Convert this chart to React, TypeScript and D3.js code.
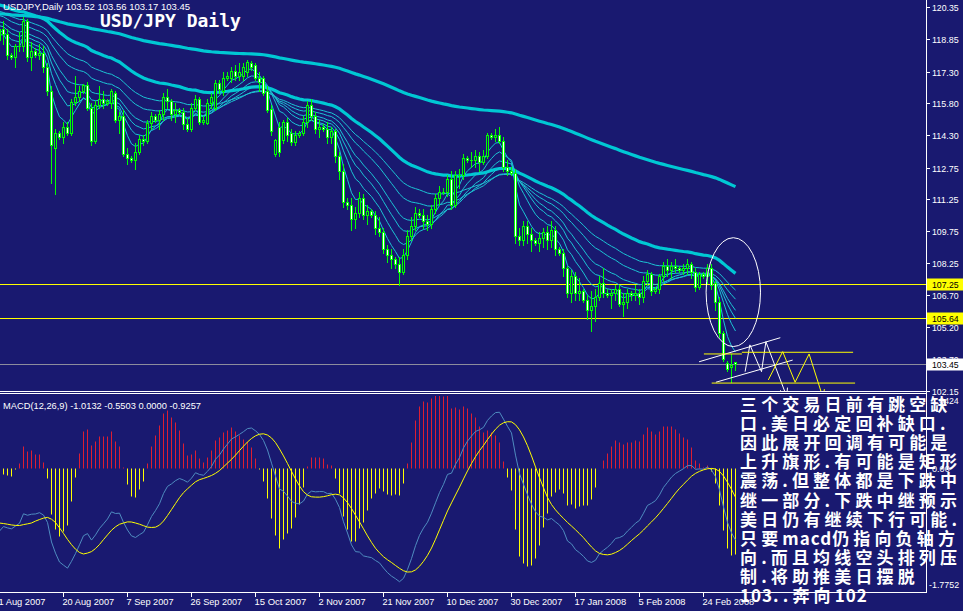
import React from "react";
import * as d3 from "d3";

const BG = "#191970";

// Daily bars, 1 Aug 2007 .. 4 Mar 2008 (broker shows short Sunday bars): [open, high, low, close]
const ohlc: [number, number, number, number][] = [
  [118.8, 119.6, 118.3, 119.3], [119.3, 119.7, 118.6, 119.1], [119.1, 119.3, 117.9, 118.1],
  [118.1, 118.2, 117.9, 118.0], [118.0, 118.6, 117.5, 118.5], [118.5, 119.2, 118.3, 118.5], [118.5, 119.9, 118.3, 119.7], [119.7, 119.8, 117.8, 118.0], [118.0, 118.7, 117.4, 118.3],
  [118.3, 118.4, 118.0, 118.1], [118.1, 118.6, 117.9, 118.2], [118.2, 118.5, 117.3, 117.5], [117.5, 117.7, 116.2, 116.4], [116.4, 116.6, 112.0, 113.8], [113.7, 114.6, 111.5, 114.4],
  [114.4, 114.5, 114.1, 114.2], [114.2, 114.9, 113.9, 114.7], [114.7, 114.9, 114.3, 114.4], [114.4, 116.0, 114.3, 115.85], [115.85, 117.1, 115.7, 116.1], [116.1, 116.6, 115.9, 116.4],
  [116.4, 116.7, 116.3, 116.65], [116.65, 116.8, 115.5, 115.6], [115.6, 115.8, 113.8, 114.0], [114.0, 115.9, 113.9, 115.7], [115.7, 116.6, 115.6, 116.0], [116.0, 116.4, 115.6, 115.8],
  [115.8, 116.0, 115.7, 115.9], [115.8, 116.5, 115.6, 116.4], [116.3, 116.4, 114.9, 115.0], [115.0, 115.4, 114.4, 115.2], [115.2, 115.5, 113.3, 113.4], [113.4, 113.7, 112.9, 113.2],
  [113.2, 113.3, 113.0, 113.1], [113.1, 113.9, 112.7, 113.5], [113.5, 114.3, 113.4, 114.1], [114.1, 114.3, 113.8, 114.0], [114.0, 115.0, 113.9, 114.85], [114.85, 115.4, 114.6, 115.2],
  [115.2, 115.3, 114.9, 115.0], [115.0, 115.5, 114.6, 115.3], [115.3, 116.3, 115.0, 116.1], [116.1, 116.5, 115.6, 115.9], [115.9, 116.0, 115.0, 115.3], [115.3, 115.8, 114.9, 115.5],
  [115.5, 115.6, 115.3, 115.4], [115.4, 115.6, 114.6, 114.8], [114.8, 115.1, 114.5, 114.6], [114.6, 115.8, 114.5, 115.6], [115.6, 116.2, 115.5, 116.0], [116.0, 116.1, 114.8, 114.9],
  [114.9, 115.2, 114.8, 115.0], [114.85, 116.0, 114.8, 115.8], [115.8, 116.3, 115.6, 116.1], [115.6, 116.9, 115.5, 116.75], [116.75, 116.9, 116.3, 116.5], [116.4, 117.3, 116.2, 117.0],
  [117.0, 117.3, 116.9, 117.1], [117.0, 117.5, 116.8, 117.35], [117.35, 117.6, 116.9, 117.1], [117.1, 117.7, 116.9, 117.3], [117.1, 117.7, 116.9, 117.5], [117.3, 117.85, 117.1, 117.75],
  [117.7, 117.8, 117.4, 117.5], [117.6, 117.7, 116.9, 117.0], [117.0, 117.3, 116.4, 116.8], [117.0, 117.1, 116.2, 116.3], [116.4, 116.6, 115.4, 115.5], [115.55, 115.7, 114.3, 114.5],
  [113.4, 114.1, 113.3, 114.05], [114.7, 114.9, 113.3, 113.5], [114.05, 115.0, 113.9, 114.9], [114.9, 115.1, 114.0, 114.3], [114.4, 114.6, 113.8, 113.95], [113.95, 114.5, 113.8, 114.3],
  [114.3, 114.5, 114.2, 114.4], [114.4, 115.2, 114.3, 114.9], [114.9, 115.9, 114.7, 115.7], [115.7, 116.0, 115.0, 115.2], [115.2, 115.4, 114.4, 114.6], [114.6, 115.0, 114.2, 114.7],
  [114.7, 114.8, 114.5, 114.6], [114.6, 114.9, 113.9, 114.2], [114.2, 114.7, 113.9, 114.5], [114.5, 114.6, 113.0, 113.3], [113.3, 113.5, 112.2, 112.6], [112.6, 112.9, 110.9, 111.1],
  [111.1, 111.3, 110.8, 111.0], [111.0, 111.3, 109.8, 110.3], [110.3, 110.9, 109.9, 110.6], [110.6, 111.6, 110.4, 111.3], [111.3, 111.5, 110.3, 110.5], [110.5, 111.0, 110.1, 110.7],
  [110.7, 110.8, 110.4, 110.5], [110.5, 110.7, 109.6, 109.9], [109.9, 110.4, 109.5, 109.7], [109.7, 109.9, 108.7, 108.9], [108.9, 109.1, 108.3, 108.6], [108.6, 108.9, 108.0, 108.4],
  [108.4, 108.5, 108.0, 108.2], [108.2, 108.5, 107.2, 107.8], [107.8, 108.9, 107.7, 108.6], [108.6, 109.8, 108.4, 109.5], [109.5, 110.4, 109.3, 110.0], [110.0, 110.9, 109.8, 110.6],
  [110.6, 110.8, 110.4, 110.5], [110.5, 110.8, 109.9, 110.2], [110.2, 110.5, 109.8, 110.1], [110.1, 111.0, 109.9, 110.8], [110.8, 111.5, 110.6, 111.3], [111.3, 111.9, 111.0, 111.6],
  [111.6, 111.8, 111.5, 111.6], [111.6, 112.4, 111.4, 112.2], [112.2, 112.6, 110.8, 111.0], [111.0, 112.6, 110.9, 112.4], [112.4, 112.7, 111.8, 112.4], [112.4, 113.4, 112.2, 113.2],
  [113.2, 113.3, 113.0, 113.1], [113.1, 113.5, 112.8, 113.1], [113.1, 113.6, 112.8, 113.3], [113.3, 113.5, 112.6, 113.0], [113.0, 113.6, 112.9, 113.3], [113.3, 114.4, 113.2, 114.3],
  [114.3, 114.4, 114.1, 114.2], [114.2, 114.6, 114.0, 114.3], [114.3, 114.7, 113.9, 114.0], [114.0, 114.2, 112.6, 112.8], [112.8, 113.1, 112.4, 112.6],
  [112.6, 112.8, 112.4, 112.5], [112.5, 112.7, 109.2, 109.5], [109.5, 109.9, 109.1, 109.3], [109.3, 110.2, 109.1, 110.0], [110.0, 110.2, 109.2, 109.6], [109.6, 109.9, 108.8, 109.3],
  [109.3, 109.4, 109.1, 109.2], [109.2, 109.7, 108.8, 109.4], [109.4, 109.9, 109.0, 109.7], [109.7, 110.0, 108.9, 109.3], [109.3, 110.2, 109.0, 109.8], [109.8, 110.0, 108.6, 108.9],
  [108.9, 109.0, 108.6, 108.7], [108.7, 108.9, 107.6, 108.0], [108.0, 108.1, 106.6, 106.8], [106.8, 107.9, 106.4, 107.6], [107.6, 107.8, 106.5, 106.8], [106.8, 107.5, 106.5, 106.9],
  [106.9, 107.0, 106.4, 106.5], [106.5, 106.7, 105.6, 106.0], [106.0, 106.9, 105.0, 106.2], [106.2, 107.0, 105.5, 106.6], [106.6, 107.6, 106.5, 107.3], [107.3, 108.0, 106.6, 106.8],
  [106.8, 107.0, 106.6, 106.7], [106.7, 107.0, 106.1, 106.8], [106.8, 107.2, 106.5, 107.0], [107.0, 107.2, 106.2, 106.3], [106.3, 106.8, 105.7, 106.4], [106.4, 107.0, 106.1, 106.8],
  [106.8, 106.9, 106.5, 106.7], [106.7, 107.2, 106.5, 106.8], [106.8, 107.0, 106.3, 106.6], [106.6, 107.6, 106.4, 107.4], [107.4, 107.9, 107.2, 107.7], [107.7, 107.8, 106.7, 106.9],
  [106.9, 107.1, 106.8, 107.0], [107.0, 107.7, 106.8, 107.6], [107.6, 108.3, 107.4, 108.1], [108.1, 108.4, 107.6, 107.9], [107.9, 108.3, 107.5, 108.1], [108.1, 108.4, 107.8, 108.0],
  [108.0, 108.1, 107.8, 107.9], [107.9, 108.2, 107.7, 108.0], [108.0, 108.4, 107.7, 108.2], [108.2, 108.3, 107.5, 107.8], [107.8, 108.0, 106.9, 107.1], [107.1, 107.8, 107.0, 107.7],
  [107.7, 107.8, 107.5, 107.6], [107.6, 108.2, 107.3, 108.0], [108.0, 108.2, 107.0, 107.2], [107.3, 107.4, 106.0, 106.4], [106.4, 106.6, 104.7, 104.9], [104.9, 105.0, 103.6, 103.7],
  [103.5, 103.6, 103.1, 103.2], [103.3, 103.9, 102.6, 103.4], [103.52, 103.56, 103.17, 103.45],
];

const timeLabels = ["1 Aug 2007", "20 Aug 2007", "7 Sep 2007", "26 Sep 2007", "15 Oct 2007", "2 Nov 2007", "21 Nov 2007", "10 Dec 2007", "30 Dec 2007", "17 Jan 2008", "5 Feb 2008", "24 Feb 2008"];
const timeLabelBars = [0, 16, 32, 48, 64, 80, 96, 112, 128, 144, 160, 176];
const priceLabels = [120.35, 118.85, 117.3, 115.8, 114.3, 112.75, 111.25, 109.75, 108.25, 106.7, 105.2, 103.7, 102.15];
const levelLines = [107.25, 105.64];
const bidPrice = 103.45;
const headerValues = ["103.52", "103.56", "103.17", "103.45"];

const thinPeriods = [5, 10, 15, 20, 30, 40];
const thinSeeds = [118.9, 119.2, 119.5, 119.7, 120.0, 120.2];
const thickPeriods = [60, 200];
const thickSeeds = [120.5, 120.05];

const macdPeriods = [12, 26, 9];
const macdSeeds = [119.1, 120.1, -0.78]; // fast EMA, slow EMA, signal at left edge
const macdLegend = ["-1.0132", "-0.5503", "0.0000", "-0.9257"];
const macdAxis = [1.0424, 0, -1.7752];

// drawn objects: [bar, price]
const ellipseCenter = [183.45, 106.85];
const ellipseRadii = [6.8, 2.58];
const flagLines = [
  [[174.9, 103.55], [195.2, 104.69]],
  [[179.1, 102.58], [198.3, 103.63]],
];
const whiteZigzag = [[186.4, 103.08], [187.6, 104.35], [190.5, 103.08], [191.6, 104.5], [196.8, 101.9]];
const yellowLines = [
  [[176.1, 103.92], [185.6, 103.92]],
  [[185.6, 104.0], [213.4, 104.0]],
  [[178.05, 102.54], [213.9, 102.54]],
];
const yellowZigzag = [[192.2, 102.69], [195.8, 104.03], [198.9, 102.58], [202.4, 103.92], [205.9, 101.83]];

const noteLines = [
  "三个交易日前有跳空缺",
  "口.美日必定回补缺口.",
  "因此展开回调有可能是",
  "上升旗形.有可能是矩形",
  "震荡.但整体都是下跌中",
  "继一部分.下跌中继预示",
  "美日仍有继续下行可能.",
  "只要macd仍指向负轴方",
  "向.而且均线空头排列压",
  "制.将助推美日摆脱",
  "103..奔向102",
];

function ema(vals: number[], period: number, seed: number) {
  const a = 2 / (period + 1);
  let prev = seed;
  return vals.map((v) => (prev = prev + a * (v - prev)));
}

function runs(t: string) {
  const out: { s: string; latin: boolean }[] = [];
  for (const ch of t) {
    const latin = /[A-Za-z0-9]/.test(ch);
    const last = out[out.length - 1];
    if (last && last.latin === latin) last.s += ch;
    else out.push({ s: ch, latin });
  }
  return out;
}

const SF = "'Liberation Sans', Arial, sans-serif";
const CH = 4.7; // small-label advance per character

export default function App() {
  const x = d3.scaleLinear().domain([0, 1]).range([-0.5, 3.5]);
  const yP = d3.scaleLinear().domain([102.15, 120.35]).range([391.3, 7.3]);
  const yM = d3.scaleLinear().domain([-1.7752, 0]).range([591, 468]);
  const closes = ohlc.map((d) => d[3]);

  const thin = thinPeriods.map((p, k) => ema(closes, p, thinSeeds[k]));
  const thick = thickPeriods.map((p, k) => ema(closes, p, thickSeeds[k]));

  const fast = ema(closes, macdPeriods[0], macdSeeds[0]);
  const slow = ema(closes, macdPeriods[1], macdSeeds[1]);
  const macd = fast.map((v, i) => v - slow[i]);
  const sigN = macdPeriods[2];
  const signal = macd.map((_, i) => {
    let s = 0;
    for (let k = i - sigN + 1; k <= i; k++) s += k >= 0 ? macd[k] : macdSeeds[2];
    return s / sigN;
  });
  const hist = macd.map((v, i) => 2 * (v - signal[i]));

  const maLine = d3.line<number>().x((_, i) => x(i)).y((v) => yP(v));
  const mLine = d3.line<number>().x((_, i) => x(i)).y((v) => yM(v));
  const pt = (d: number[]) => [x(d[0]), yP(d[1])] as [number, number];
  const poly = d3.line<number[]>().x((d) => x(d[0])).y((d) => yP(d[1]));

  const arrowHead = (pts: number[][], color: string, key: string) => {
    const a = pt(pts[pts.length - 2]);
    const b = pt(pts[pts.length - 1]);
    const ang = Math.atan2(b[1] - a[1], b[0] - a[0]);
    const L = 9;
    const p1 = [b[0] - L * Math.cos(ang - 0.45), b[1] - L * Math.sin(ang - 0.45)];
    const p2 = [b[0] - L * Math.cos(ang + 0.45), b[1] - L * Math.sin(ang + 0.45)];
    return (
      <path key={key} d={`M${p1[0]},${p1[1]}L${b[0]},${b[1]}L${p2[0]},${p2[1]}`} fill="none" stroke={color} strokeWidth={1} />
    );
  };

  const zeroY = Math.round(yM(0)) + 0.5;
  const small = (s: string, xx: number, yy: number, fill: string, w: number, key?: string) => (
    <text key={key} x={xx} y={yy} fill={fill} fontSize={9.5} fontFamily={SF} textLength={w} lengthAdjust="spacingAndGlyphs">
      {s}
    </text>
  );

  const title = "USDJPY,Daily  " + headerValues.join(" ");
  const legend = "MACD(12,26,9) " + macdLegend.join(" ");

  return (
    <div style={{ position: "fixed", left: 0, top: 0, width: 963, height: 611, background: BG }}>
      <svg width={963} height={611} style={{ display: "block" }}>
        <defs>
          <clipPath id="mainClip"><rect x={0} y={0} width={926} height={391} /></clipPath>
          <clipPath id="macdClip"><rect x={0} y={396} width={926} height={196} /></clipPath>
        </defs>
        <rect x={0} y={0} width={963} height={611} fill={BG} />

        <g clipPath="url(#mainClip)">
          {levelLines.map((p) => (
            <line key={p} x1={0} x2={926} y1={Math.round(yP(p)) + 0.5} y2={Math.round(yP(p)) + 0.5} stroke="#ffff00" strokeWidth={1} />
          ))}
          <line x1={0} x2={926} y1={Math.round(yP(bidPrice)) + 0.5} y2={Math.round(yP(bidPrice)) + 0.5} stroke="#8c8c9c" strokeWidth={1} />

          {thick.map((s, k) => (
            <path key={"tk" + k} d={maLine(s) || ""} fill="none" stroke="#00c8d4" strokeWidth={3.2} />
          ))}
          {thin.map((s, k) => (
            <path key={"tn" + k} d={maLine(s) || ""} fill="none" stroke="#1cc4d4" strokeWidth={1} />
          ))}

          {ohlc.map((d, i) => {
            const [o, h, l, c] = d;
            const xc = x(i);
            const yh = Math.round(yP(h));
            const yl = Math.round(yP(l));
            const yo = Math.round(yP(o));
            const ycl = Math.round(yP(c));
            const top = Math.min(yo, ycl);
            const bot = Math.max(yo, ycl);
            return (
              <g key={"c" + i}>
                <line x1={xc} x2={xc} y1={yh} y2={yl + 1} stroke="#00ff00" strokeWidth={1} />
                {bot - top < 1 ? (
                  <line x1={xc - 1.5} x2={xc + 1.5} y1={top + 0.5} y2={top + 0.5} stroke="#00ff00" strokeWidth={1} />
                ) : (
                  <rect x={xc - 1} y={top + 0.5} width={2} height={bot - top} fill={c > o ? BG : "#ffffff"} stroke="#00ff00" strokeWidth={1} />
                )}
              </g>
            );
          })}

          <ellipse cx={x(ellipseCenter[0])} cy={yP(ellipseCenter[1])} rx={x(ellipseRadii[0]) - x(0)} ry={yP(120.35 - ellipseRadii[1]) - yP(120.35)} fill="none" stroke="#ffffff" strokeWidth={1} />
          {flagLines.map((l, k) => (
            <path key={"fl" + k} d={poly(l) || ""} stroke="#ffffff" strokeWidth={1} fill="none" />
          ))}
          <path d={poly(whiteZigzag) || ""} stroke="#ffffff" strokeWidth={1} fill="none" />
          {arrowHead(whiteZigzag, "#ffffff", "wa")}
          {yellowLines.map((l, k) => (
            <path key={"yl" + k} d={poly(l) || ""} stroke="#ffff00" strokeWidth={1} fill="none" />
          ))}
          <path d={poly(yellowZigzag) || ""} stroke="#ffff00" strokeWidth={1} fill="none" />
          {arrowHead(yellowZigzag, "#ffff00", "ya")}
        </g>

        {small(title, 3, 10, "#ffffff", 187)}
        <text x={100} y={27} fill="#ffffff" fontSize={18} fontWeight="bold" fontFamily="'DejaVu Sans Mono', monospace">
          USD/JPY Daily
        </text>

        <line x1={0} x2={926} y1={391.5} y2={391.5} stroke="#ffffff" strokeWidth={1} />
        <line x1={0} x2={926} y1={393.5} y2={393.5} stroke="#ffffff" strokeWidth={1} />

        <g clipPath="url(#macdClip)">
          {hist.map((v, i) => {
            const yy = Math.round(yM(v)) + 0.5;
            if (Math.abs(yy - zeroY) < 1) return null;
            return <line key={"h" + i} x1={x(i)} x2={x(i)} y1={zeroY} y2={yy} stroke={v > 0 ? "#dc1e32" : "#ffff00"} strokeWidth={1} />;
          })}
          <path d={mLine(macd) || ""} fill="none" stroke="#4f8cc0" strokeWidth={1} />
          <path d={mLine(signal) || ""} fill="none" stroke="#ffff00" strokeWidth={1} />
        </g>
        {small(legend, 3, 408.5, "#ffffff", 198)}

        <line x1={926.5} x2={926.5} y1={0} y2={593} stroke="#ffffff" strokeWidth={1} />
        {priceLabels.map((p) => {
          const yy = Math.round(yP(p));
          const s = p.toFixed(2);
          return (
            <g key={"pl" + p}>
              <line x1={926} x2={930} y1={yy + 0.5} y2={yy + 0.5} stroke="#ffffff" strokeWidth={1} />
              {small(s, 932, yy + 3.5, "#ffffff", s.length * 4.45)}
            </g>
          );
        })}
        {levelLines.map((p) => {
          const yy = Math.round(yP(p));
          const s = p.toFixed(2);
          return (
            <g key={"lb" + p}>
              <rect x={927} y={yy - 5.5} width={36} height={12} fill="#ffff00" />
              {small(s, 932, yy + 3.5, "#000000", s.length * 4.45)}
            </g>
          );
        })}
        <rect x={927} y={Math.round(yP(bidPrice)) - 5.5} width={36} height={12} fill="#ffffff" />
        {small(bidPrice.toFixed(2), 932, Math.round(yP(bidPrice)) + 3.5, "#000000", 6 * 4.45)}

        {small(macdAxis[0].toFixed(4), 932, 404, "#ffffff", 6 * 4.45)}
        {small(macdAxis[1].toFixed(2), 932, Math.round(yM(macdAxis[1])) + 3.5, "#ffffff", 4 * 4.45)}
        {small(macdAxis[2].toFixed(4), 929, 588, "#ffffff", 7 * 4.3)}

        <line x1={0} x2={927} y1={592.5} y2={592.5} stroke="#ffffff" strokeWidth={1} />
        {timeLabelBars.map((b, k) => (
          <g key={"t" + b}>
            <line x1={x(b)} x2={x(b)} y1={592} y2={597} stroke="#ffffff" strokeWidth={1} />
            {small(timeLabels[k], x(b) - 1, 605, "#ffffff", timeLabels[k].length * CH)}
          </g>
        ))}

        {noteLines.map((t, k) => (
          <text key={"n" + k} x={740} y={411 + k * 19.1} fill="#ffffff" fontSize={17} fontWeight="bold" fontFamily="'Noto Sans CJK SC', sans-serif">
            {runs(t).map((r, j) => (
              <tspan key={j} letterSpacing={r.latin ? 1.0 : 4.15}>{r.s}</tspan>
            ))}
          </text>
        ))}
      </svg>
    </div>
  );
}
